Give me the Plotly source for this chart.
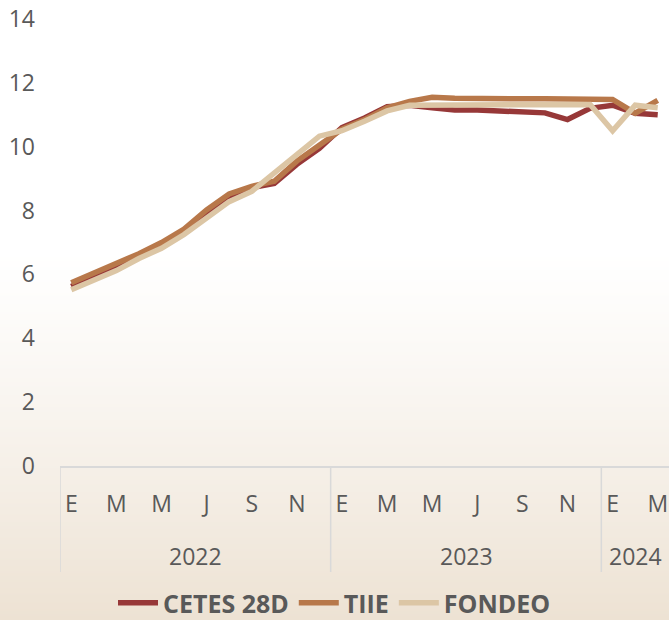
import base64, struct, zlib
import plotly.graph_objects as go

# ---------------- data ----------------
month_labels = ["E", "F", "M", "A", "M", "J", "J", "A", "S", "O", "N", "D"]
years = ["2022", "2023", "2024"]
months_per_year = [12, 12, 3]

cetes = [5.62, 5.95, 6.30, 6.60, 6.95, 7.35, 7.92, 8.45, 8.72, 8.85, 9.45, 9.95,
         10.60, 10.90, 11.25, 11.30, 11.22, 11.15, 11.15, 11.12, 11.08, 11.06, 10.85, 11.20,
         11.30, 11.05, 11.00]
tiie = [5.74, 6.03, 6.35, 6.65, 7.00, 7.42, 8.02, 8.52, 8.76, 8.92, 9.55, 10.05,
        10.55, 10.85, 11.22, 11.42, 11.55, 11.52, 11.50, 11.50, 11.50, 11.50, 11.50, 11.50,
        11.48, 11.05, 11.45]
fondeo = [5.52, 5.80, 6.12, 6.50, 6.82, 7.25, 7.78, 8.28, 8.60, 9.15, 9.75, 10.33,
          10.50, 10.80, 11.12, 11.30, 11.30, 11.28, 11.28, 11.28, 11.28, 11.28, 11.30, 11.32,
          10.50, 11.30, 11.22]

series_names = ["CETES 28D", "TIIE", "FONDEO"]
series_values = [cetes, tiie, fondeo]
series_colors = ["#973838", "#B8784A", "#DCC6A5"]

y_ticks = [0, 2, 4, 6, 8, 10, 12, 14]

# ---------------- helpers ----------------
n = len(cetes)
xs = list(range(n))
tick_vals, tick_text = [], []
for i in xs:
    m = i % 12
    if m % 2 == 0:
        tick_vals.append(i)
        tick_text.append(month_labels[m])


def gradient_png(height=620):
    rows = b""
    for r in range(height):
        t = r / (height - 1)
        if t < 0.40:
            f = 0.0
        else:
            f = ((t - 0.40) / 0.60) ** 1.2
        c0, c1 = (255, 255, 255), (237, 226, 211)
        c = tuple(int(round(c0[k] + (c1[k] - c0[k]) * f)) for k in range(3))
        rows += b"\x00" + bytes(c)

    def chunk(tag, data):
        return struct.pack(">I", len(data)) + tag + data + struct.pack(">I", zlib.crc32(tag + data) & 0xffffffff)

    png = b"\x89PNG\r\n\x1a\n"
    png += chunk(b"IHDR", struct.pack(">IIBBBBB", 1, height, 8, 2, 0, 0, 0))
    png += chunk(b"IDAT", zlib.compress(rows))
    png += chunk(b"IEND", b"")
    return "data:image/png;base64," + base64.b64encode(png).decode()


W, H = 669, 620
ML, MR, MT, MB = 60, 0, 19, 154
PW, PH = W - ML - MR, H - MT - MB

font_family = "Open Sans, Noto Sans, sans-serif"
text_color = "#595959"

fig = go.Figure()
for name, vals, col in zip(series_names, series_values, series_colors):
    fig.add_trace(go.Scatter(x=xs, y=vals, name=name, mode="lines",
                             line=dict(color=col, width=5.5)))

# year group labels and dividers
start = 0
for yr, cnt in zip(years, months_per_year):
    center = start + (cnt - 1) / 2
    fig.add_annotation(x=center, y=(MT + PH - 556) / PH, xref="x", yref="paper",
                       text=yr, showarrow=False, yanchor="middle",
                       font=dict(family=font_family, size=23, color=text_color))
    fig.add_shape(type="line", xref="x", yref="paper", x0=start - 0.5, x1=start - 0.5,
                  y0=0, y1=(MT + PH - 572) / PH, line=dict(color="#d9d9d9", width=1.5))
    start += cnt

fig.add_layout_image(dict(source=gradient_png(H), xref="paper", yref="paper",
                          x=-ML / PW, y=(MT + PH) / PH, sizex=W / PW, sizey=H / PH,
                          xanchor="left", yanchor="top", sizing="stretch", layer="below"))

fig.update_layout(
    width=W, height=H,
    margin=dict(l=ML, r=MR, t=MT, b=MB, pad=0),
    paper_bgcolor="white",
    plot_bgcolor="rgba(0,0,0,0)",
    showlegend=True,
    legend=dict(orientation="h", x=0.5, xanchor="center", xref="container",
                y=1 - 603 / H, yanchor="middle", yref="container",
                font=dict(family=font_family, size=25, color=text_color, weight="bold"),
                bgcolor="rgba(0,0,0,0)", itemwidth=40, entrywidth=0),
    xaxis=dict(range=[-0.5, n - 0.5], tickmode="array", tickvals=tick_vals, ticktext=tick_text,
               showgrid=False, zeroline=False, showline=True, linecolor="#d9d9d9", linewidth=2,
               ticks="", ticklabelstandoff=16,
               tickfont=dict(family=font_family, size=23, color=text_color)),
    yaxis=dict(range=[0, 14], tickmode="array", tickvals=y_ticks,
               showgrid=False, zeroline=False, showline=False, ticks="",
               ticklabelstandoff=24,
               tickfont=dict(family=font_family, size=23, color=text_color)),
)

fig.write_html("out.html", config={"displayModeBar": False},
               post_script="document.body.style.margin='0';document.body.style.overflow='hidden';")
